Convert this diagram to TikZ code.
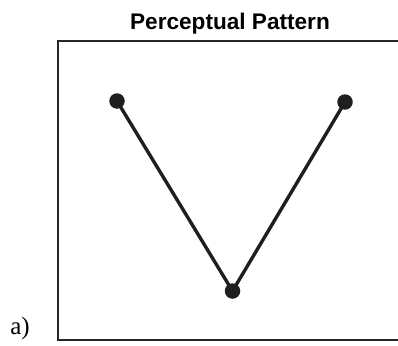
\documentclass[tikz,border=0pt]{standalone}
\usepackage{fontspec}
\setmainfont{Liberation Serif}
\setsansfont{Liberation Sans}
\usepackage{tikz}

\begin{document}
\begin{tikzpicture}[x=1pt,y=-1pt,line width=2.6pt,
  dot/.style={circle,fill=black!88,inner sep=0pt,minimum size=15.5pt},
  link/.style={draw=black!88,line width=3.4pt}]
\useasboundingbox (0,0) rectangle (398,345);
\begin{scope}
\clip (0,0) rectangle (398,345);
\draw[line width=2pt,black!85] (58,41.5) rectangle (410,340);
\end{scope}
\node[font=\sffamily\bfseries\fontsize{22.6}{25}\selectfont,anchor=base] (title) at (230,30) {Perceptual Pattern};
\node[font=\fontsize{25}{27}\selectfont,anchor=base west,inner sep=0pt] (lab) at (9,334) {a)};
\node[dot] (p1) at (117,101) {};
\node[dot] (p2) at (232.5,291) {};
\node[dot] (p3) at (345,102) {};
\draw[link] (p1.center)--(p2.center)--(p3.center);
\end{tikzpicture}
\end{document}
